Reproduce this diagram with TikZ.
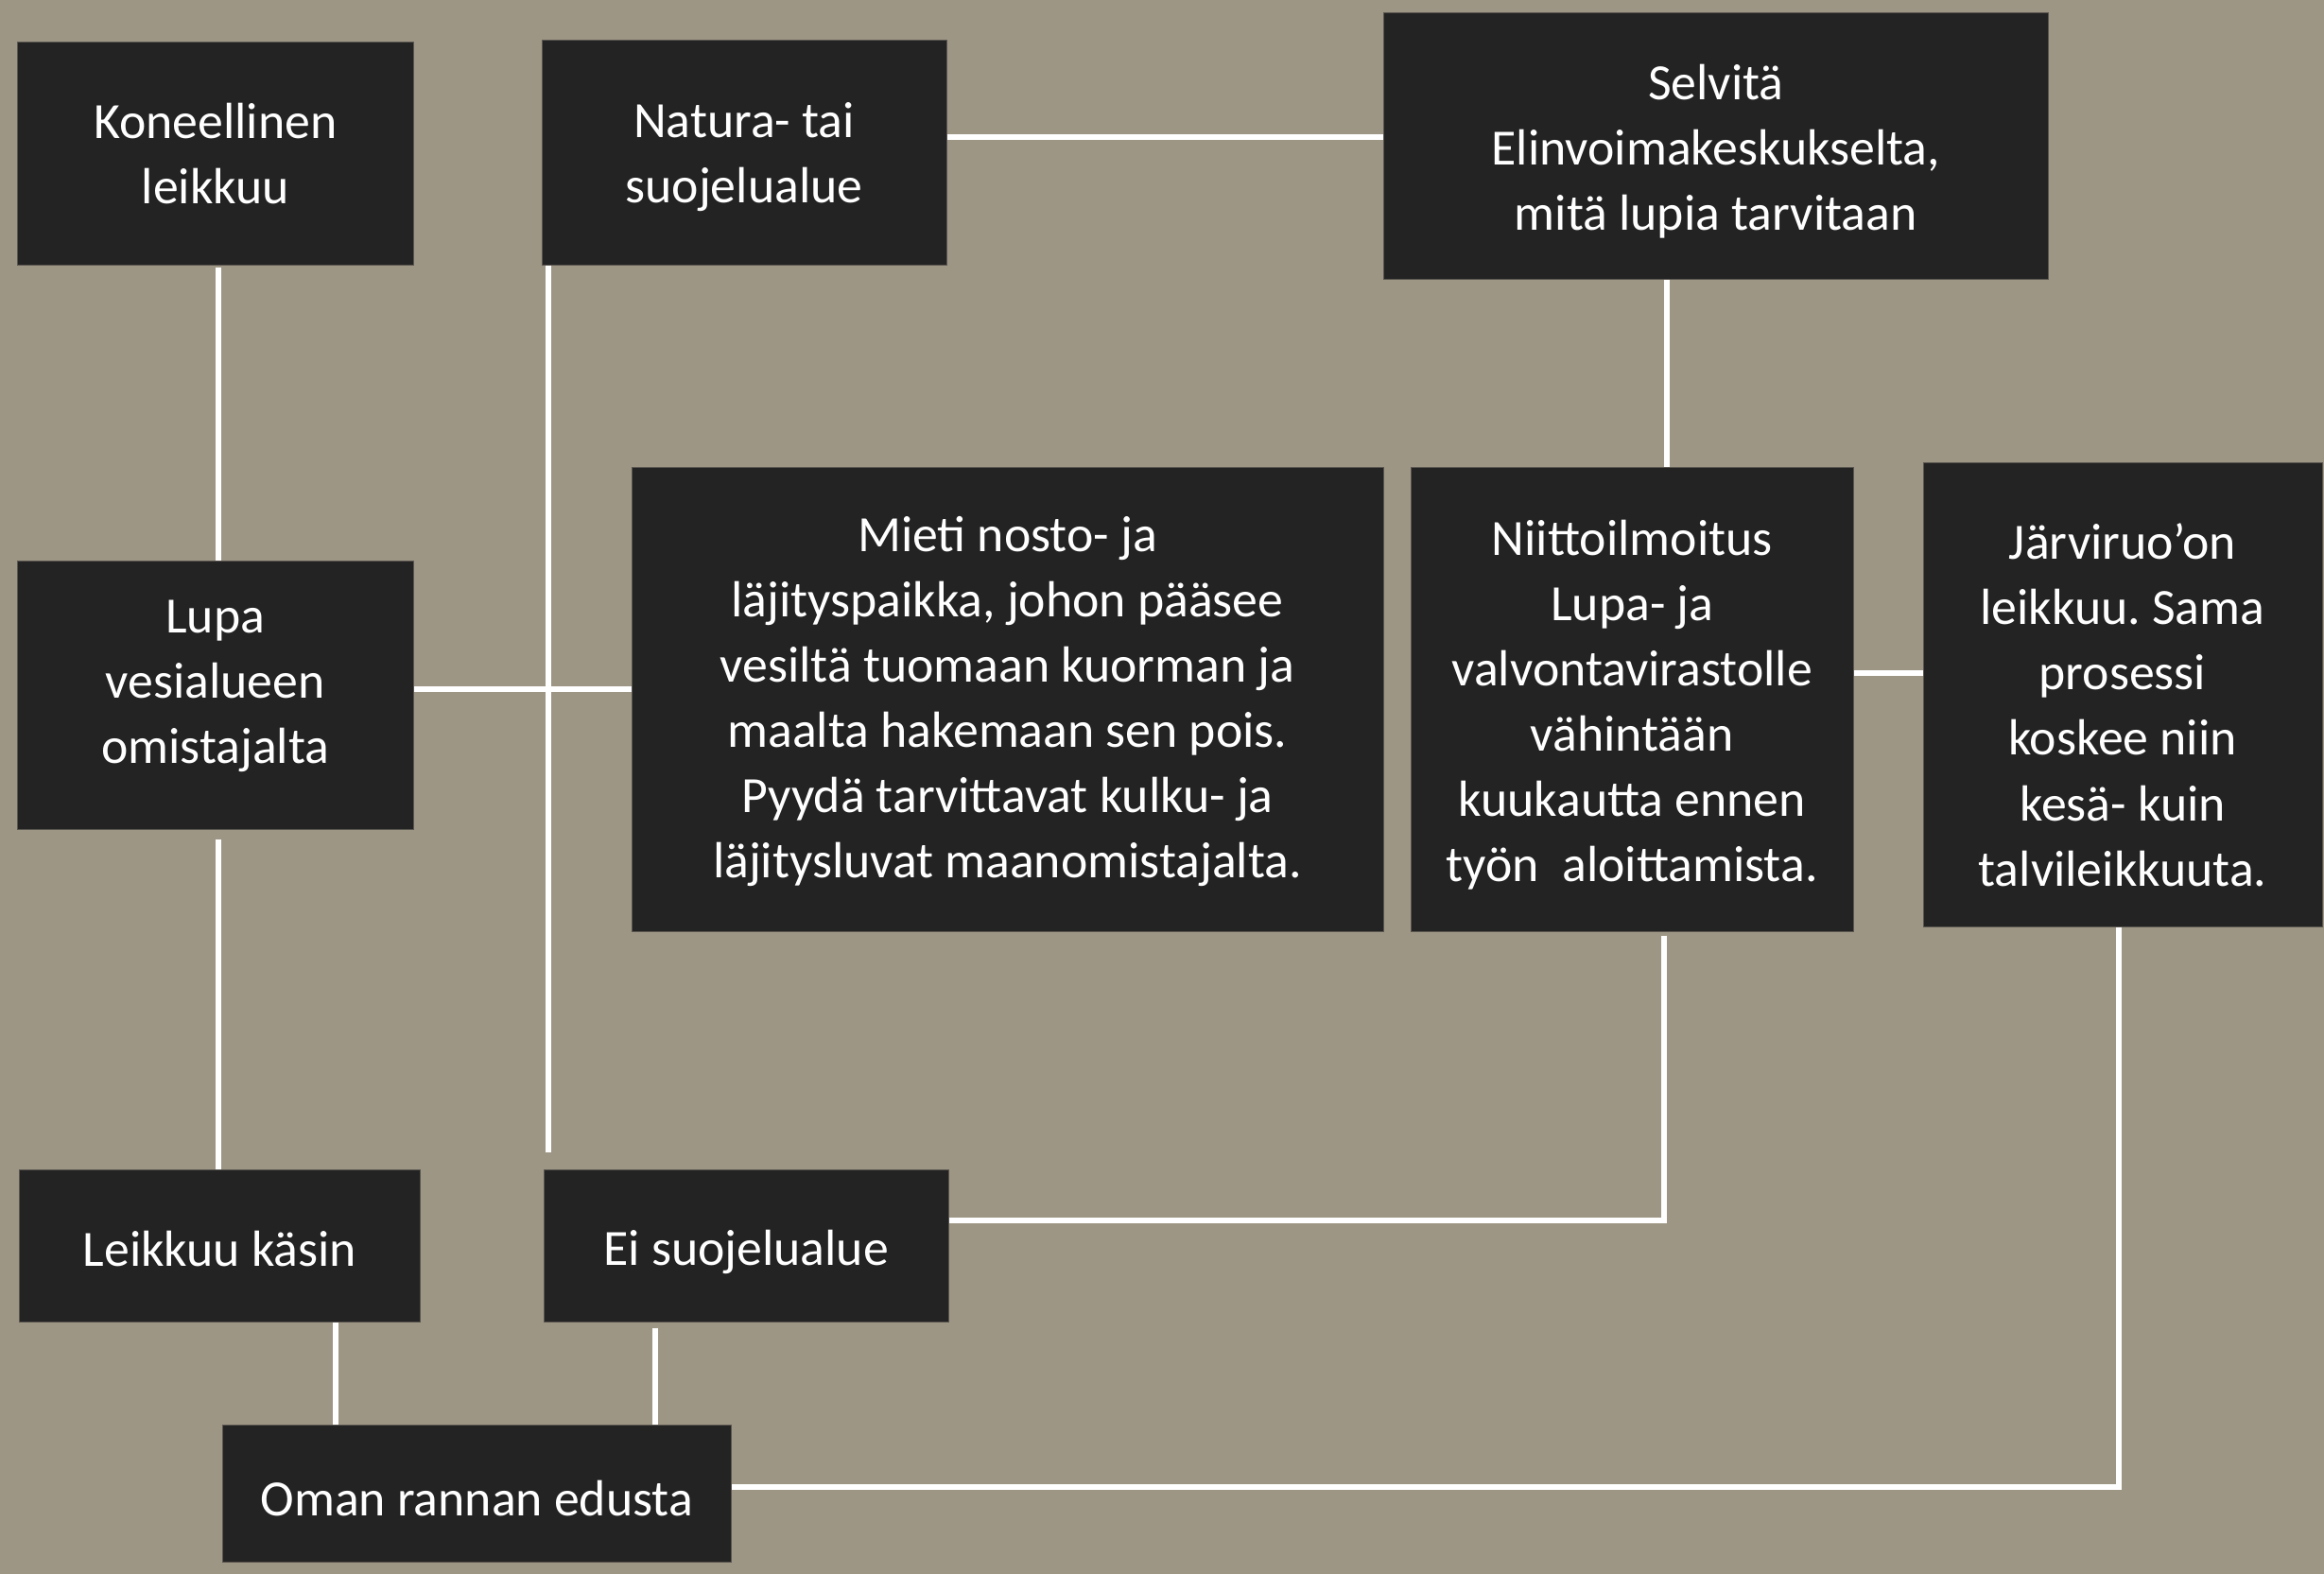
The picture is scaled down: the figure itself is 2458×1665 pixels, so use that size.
\documentclass[tikz,border=0pt]{standalone}
\usepackage{fontspec}
\setmainfont{Carlito}
\definecolor{bgc}{HTML}{9E9685}
\definecolor{boxc}{HTML}{232323}
\definecolor{edgec}{HTML}{5A5650}
\newcommand\bx[7]{%
  \node[box, minimum width={(#4-#2)*0.4pt}, minimum height={(#5-#3)*0.4pt}] (#1) at ({(#2+#4)/2},{(#3+#5)/2}) {};
  \node[boxtext] (#1t) at ({(#2+#4)/2},{(#3+#5)/2+#6}) {#7};}
\begin{document}
\frenchspacing
\begin{tikzpicture}[x=0.4pt,y=-0.4pt,
  box/.style={rectangle, fill=boxc, draw=edgec, line width=0.4pt, inner sep=0pt},
  boxtext/.style={text=white, align=center, inner sep=0pt, font=\fontsize{21.5pt}{27.6pt}\selectfont},
  conn/.style={draw=white, line width=2.4pt}]
\fill[bgc] (0,0) rectangle (2458,1665);
\useasboundingbox (0,0) rectangle (2458,1665);

\bx{kone}{18}{44.5}{437.5}{281}{0}{Koneellinen\\leikkuu}
\bx{natura}{573}{42.5}{1001}{281}{4}{Natura- tai\\suojelualue}
\bx{selvita}{1463.5}{14}{2166}{296}{5}{Selvitä\\Elinvoimakeskukselta,\\mitä lupia tarvitaan}
\bx{lupa}{18}{593.5}{437.5}{877}{-9}{Lupa\\vesialueen\\omistajalta}
\bx{mieti}{668}{494}{1463}{985}{3}{Mieti nosto- ja\\läjityspaikka, johon pääsee\\vesiltä tuomaan kuorman ja\\maalta hakemaan sen pois.\\Pyydä tarvittavat kulku- ja\\läjitysluvat maanomistajalta.}
\bx{niitto}{1492.5}{494}{1960}{985}{6}{Niittoilmoitus\\Lupa- ja\\valvontavirastolle\\vähintään\\kuukautta ennen\\työn\ \ aloittamista.}
\bx{jarvi}{2034}{489}{2456}{980.5}{11}{Järviruo’on\\leikkuu. Sama\\prosessi\\koskee niin\\kesä- kuin\\talvileikkuuta.}
\bx{kasin}{20.5}{1237.5}{444.5}{1398.5}{3}{Leikkuu käsin}
\bx{eisuoj}{575.5}{1237.5}{1003}{1398.5}{6}{Ei suojelualue}
\bx{oman}{235}{1507.5}{773.5}{1652.5}{5}{Oman rannan edusta}

\coordinate (xa) at (231,0);
\coordinate (xb) at (580.4,0);
\coordinate (xc) at (1763,0);
\coordinate (xd) at (1760,0);
\coordinate (xe) at (2241,0);
\coordinate (xf) at (354.6,0);
\coordinate (xg) at (692.6,0);

\draw[conn, shorten <=0.8pt] (kone.south -| xa) -- (lupa.north -| xa);
\draw[conn, shorten <=4pt] (lupa.south -| xa) -- (kasin.north -| xa);
\draw[conn, shorten >=7.2pt] (natura.south -| xb) -- (eisuoj.north -| xb);
\draw[conn] ([yshift=2.4pt]lupa.east) -- ([yshift=2.4pt]lupa.east -| mieti.west);
\draw[conn] ([yshift=6.8pt]natura.east) -- ([yshift=6.8pt]natura.east -| selvita.west);
\draw[conn] (selvita.south -| xc) -- (niitto.north -| xc);
\draw[conn] ([yshift=11.1pt]niitto.east) -- ([yshift=11.1pt]niitto.east -| jarvi.west);
\draw[conn, shorten <=1.6pt] (niitto.south -| xd) |- ([yshift=10.8pt]eisuoj.east);
\draw[conn] (jarvi.south -| xe) |- ([yshift=3pt]oman.east);
\draw[conn] (kasin.south -| xf) -- (oman.north -| xf);
\draw[conn, shorten <=2.2pt] (eisuoj.south -| xg) -- (oman.north -| xg);
\end{tikzpicture}
\end{document}
